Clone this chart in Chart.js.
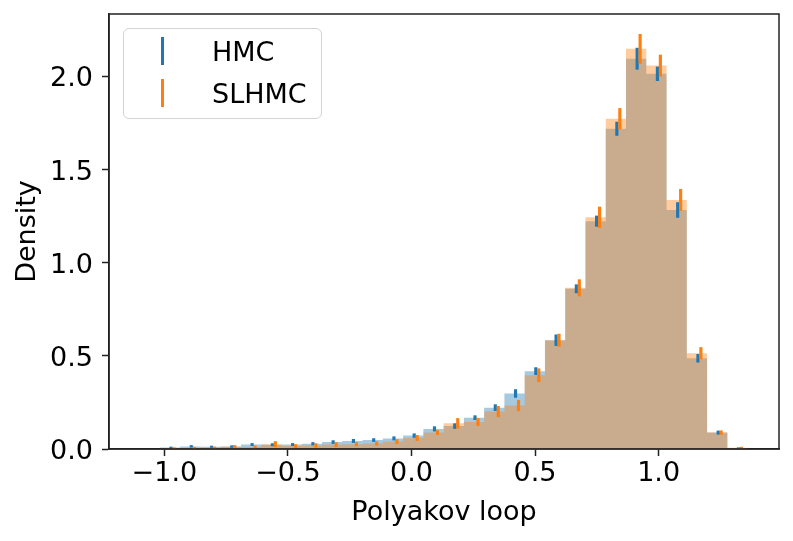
<!DOCTYPE html>
<html>
<head>
<meta charset="utf-8">
<script src="https://cdn.jsdelivr.net/npm/chart.js@4.4.1/dist/chart.umd.min.js"></script>
<style>
body { margin: 0; background: #fff; }
#wrap { position: relative; width: 793px; height: 541px; }
#legend {
    position: absolute; left: 123px; top: 28px; width: 199px; height: 91px;
    box-sizing: border-box; border: 1.5px solid #d4d4d4; border-radius: 6px;
    background: rgba(255, 255, 255, 0.8);
    font-family: 'DejaVu Sans'; font-size: 27px; line-height: 27px; color: #000;
}
#legend .mark { position: absolute; left: 37px; width: 2.5px; height: 28px; }
#legend .lbl { position: absolute; left: 88px; white-space: nowrap; }
</style>
</head>
<body>
<div id="wrap">
    <canvas id="chart" width="793" height="541"></canvas>
    <div id="legend">
        <div class="mark" style="top: 7.5px; background: #1f77b4;"></div>
        <div class="lbl" style="top: 8.7px;">HMC</div>
        <div class="mark" style="top: 49.5px; background: #ff7f0e;"></div>
        <div class="lbl" style="top: 50.7px;">SLHMC</div>
    </div>
</div>
<script>
// histogram bin edges of the Polyakov loop (29 bins)
const binEdges = [-1.018, -0.936, -0.854, -0.772, -0.690, -0.608, -0.526, -0.444, -0.362, -0.280,
    -0.198, -0.116, -0.034, 0.048, 0.130, 0.212, 0.294, 0.376, 0.458, 0.540,
    0.622, 0.704, 0.786, 0.868, 0.950, 1.032, 1.114, 1.196, 1.278, 1.360];

const hmcDensity = [0.008, 0.014, 0.012, 0.013, 0.024, 0.023, 0.024, 0.028, 0.037, 0.043,
    0.048, 0.057, 0.072, 0.108, 0.123, 0.168, 0.222, 0.298, 0.418, 0.584,
    0.860, 1.223, 1.719, 2.095, 2.014, 1.283, 0.487, 0.088, 0.005];
const hmcError = [0.003, 0.005, 0.004, 0.005, 0.006, 0.006, 0.006, 0.007, 0.008, 0.009,
    0.008, 0.009, 0.010, 0.012, 0.013, 0.011, 0.016, 0.021, 0.019, 0.029,
    0.022, 0.028, 0.036, 0.057, 0.037, 0.040, 0.021, 0.009, 0.002];

const slhmcDensity = [0.004, 0.006, 0.007, 0.012, 0.011, 0.026, 0.016, 0.019, 0.024, 0.026,
    0.030, 0.040, 0.059, 0.088, 0.138, 0.145, 0.201, 0.233, 0.396, 0.584,
    0.865, 1.244, 1.773, 2.148, 2.058, 1.337, 0.514, 0.088, 0.007];
const slhmcError = [0.003, 0.004, 0.004, 0.007, 0.006, 0.014, 0.008, 0.010, 0.011, 0.009,
    0.009, 0.011, 0.014, 0.011, 0.026, 0.019, 0.028, 0.028, 0.035, 0.033,
    0.044, 0.055, 0.055, 0.078, 0.057, 0.057, 0.031, 0.010, 0.003];

const xTicks = [-1.0, -0.5, 0.0, 0.5, 1.0];
const yTicks = [0.0, 0.5, 1.0, 1.5, 2.0];
const xMin = -1.224, xMax = 1.487, yMax = 2.335;

const blue = '#1f77b4', orange = '#ff7f0e';
const font = { family: 'DejaVu Sans', size: 27 };

// step outline: value of bin i holds from edge i to edge i+1
function steps(vals) {
    return binEdges.map((e, i) => ({ x: e, y: vals[Math.min(i, vals.length - 1)] }));
}
function errs(vals, err, shift) {
    return vals.map((v, i) => ({
        x: (binEdges[i] + binEdges[i + 1]) / 2 + shift,
        y: [v - err[i], v + err[i]]
    }));
}
function fmt(v) {
    return v.toFixed(1).replace('-', '\u2212');
}

// matplotlib draws the spines on top of the patches
const frame = {
    id: 'frame',
    afterDraw(chart) {
        const { ctx, chartArea: a } = chart;
        ctx.save();
        ctx.strokeStyle = '#222';
        ctx.lineWidth = 1.5;
        ctx.strokeRect(a.left, a.top, a.right - a.left, a.bottom - a.top);
        ctx.restore();
    }
};

const ctx = document.getElementById('chart').getContext('2d');
const chart = new Chart(ctx, {
    type: 'bar',
    data: {
        datasets: [{
            type: 'line',
            label: 'HMC hist',
            data: steps(hmcDensity),
            stepped: true,
            fill: 'origin',
            backgroundColor: 'rgba(31, 119, 180, 0.4)',
            borderColor: 'rgba(0, 0, 0, 0)',
            pointRadius: 0,
            order: 4
        }, {
            type: 'line',
            label: 'SLHMC hist',
            data: steps(slhmcDensity),
            stepped: true,
            fill: 'origin',
            backgroundColor: 'rgba(255, 127, 14, 0.4)',
            borderColor: 'rgba(0, 0, 0, 0)',
            pointRadius: 0,
            order: 3
        }, {
            label: 'HMC',
            data: errs(hmcDensity, hmcError, 0.004),
            backgroundColor: blue,
            xAxisID: 'x2',
            grouped: false,
            barThickness: 2.5,
            order: 2
        }, {
            label: 'SLHMC',
            data: errs(slhmcDensity, slhmcError, 0.016),
            backgroundColor: orange,
            xAxisID: 'x2',
            grouped: false,
            barThickness: 2.5,
            order: 1
        }]
    },
    options: {
        responsive: false,
        animation: false,
        layout: { padding: { top: 14, right: 14, left: 0, bottom: 0 } },
        plugins: {
            legend: { display: false },
            tooltip: { enabled: false }
        },
        scales: {
            x: {
                type: 'linear',
                min: xMin,
                max: xMax,
                offset: false,
                afterBuildTicks: (s) => { s.ticks = xTicks.map(v => ({ value: v })); },
                afterFit: (s) => { s.height = 92; s.paddingLeft = 0; s.paddingRight = 0; },
                grid: { offset: false, drawOnChartArea: false, tickLength: 7, tickColor: '#222', tickWidth: 1.5 },
                border: { display: true, color: '#222', width: 1.5 },
                ticks: { font: font, color: '#000', padding: 2, maxRotation: 0, callback: fmt },
                title: { display: true, text: 'Polyakov loop', font: font, color: '#000', padding: { top: 0, bottom: 12 } }
            },
            x2: {
                type: 'linear',
                display: false,
                min: xMin,
                max: xMax,
                offset: false
            },
            y: {
                min: 0,
                max: yMax,
                afterBuildTicks: (s) => { s.ticks = yTicks.map(v => ({ value: v })); },
                afterFit: (s) => { s.width = 109; s.paddingTop = 0; s.paddingBottom = 0; },
                grid: { drawOnChartArea: false, tickLength: 7, tickColor: '#222', tickWidth: 1.5 },
                border: { display: true, color: '#222', width: 1.5 },
                ticks: { font: font, color: '#000', padding: 9, labelOffset: 3, callback: fmt },
                title: { display: true, text: 'Density', font: font, color: '#000', padding: { top: 12, bottom: 0 } }
            }
        }
    },
    plugins: [frame]
});
</script>
</body>
</html>
